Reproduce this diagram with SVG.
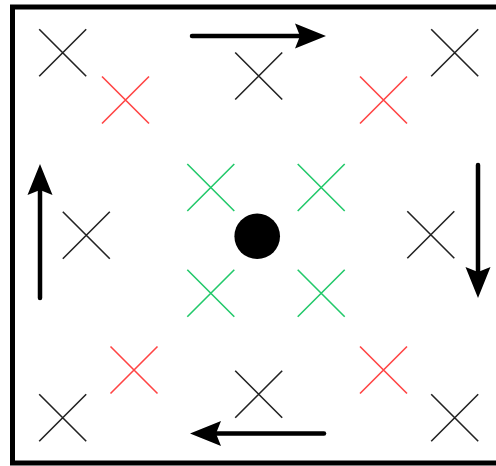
<svg xmlns="http://www.w3.org/2000/svg" width="496" height="466" viewBox="0 0 496 466">
<style>
.blk{stroke:#222;stroke-width:1.6;fill:none}
.red{stroke:#ff4444;stroke-width:1.6;fill:none}
.grn{stroke:#22c96a;stroke-width:1.6;fill:none}
.arr{stroke:#000;stroke-width:4.5;stroke-linecap:round;fill:none;marker-end:url(#ah)}
</style>
<defs>
<marker id="ah" markerUnits="userSpaceOnUse" markerWidth="32" markerHeight="26" refX="5" refY="12.5" orient="auto" overflow="visible">
<path d="M0,0 L31,12.5 L0,25 L5,12.5 Z" fill="#000"/>
</marker>
<path id="x" d="M-23.5,-23.5 L23.5,23.5 M-23.5,23.5 L23.5,-23.5"/>
</defs>
<rect width="496" height="466" fill="#fff"/>
<rect id="frame" x="12.5" y="7" width="500" height="456" fill="none" stroke="#000" stroke-width="5"/>
<g id="black-x">
<use href="#x" class="blk" x="62.7" y="52.7"/>
<use href="#x" class="blk" x="258.7" y="76"/>
<use href="#x" class="blk" x="454.7" y="52.7"/>
<use href="#x" class="blk" x="86.3" y="235.3"/>
<use href="#x" class="blk" x="430.8" y="234.7"/>
<use href="#x" class="blk" x="62.7" y="417.7"/>
<use href="#x" class="blk" x="258.7" y="394.2"/>
<use href="#x" class="blk" x="454.7" y="417.7"/>
</g>
<g id="red-x">
<use href="#x" class="red" x="125.5" y="100"/>
<use href="#x" class="red" x="383.5" y="100"/>
<use href="#x" class="red" x="134" y="370"/>
<use href="#x" class="red" x="383.5" y="370"/>
</g>
<g id="green-x">
<use href="#x" class="grn" x="210.8" y="187.5"/>
<use href="#x" class="grn" x="321.2" y="187.5"/>
<use href="#x" class="grn" x="210.8" y="293.3"/>
<use href="#x" class="grn" x="321.2" y="293.3"/>
</g>
<g id="center">
<circle cx="257.2" cy="236.3" r="22.8" fill="#000"/>
</g>
<g id="connectors">
<path class="arr" d="M192,36 L300,36"/>
<path class="arr" d="M478,165 L478,272"/>
<path class="arr" d="M324,433.5 L216,433.5"/>
<path class="arr" d="M40,298 L40,190"/>
</g>
</svg>
